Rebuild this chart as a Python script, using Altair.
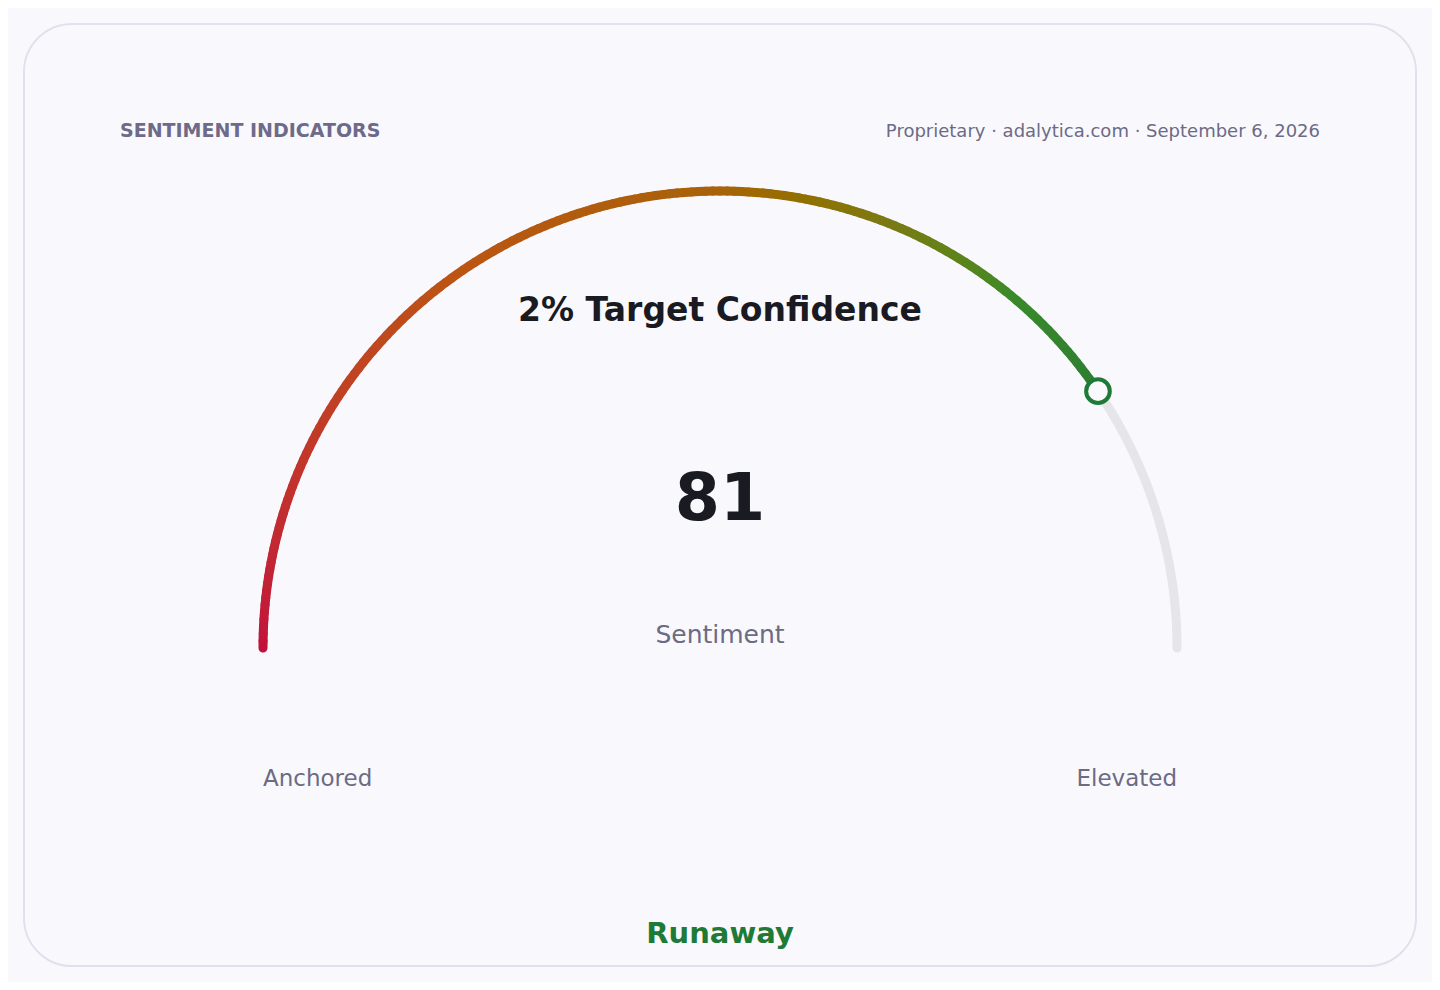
import altair as alt
import pandas as pd

# ---- data ----
VALUE = [81]
SCALE_MIN = 0
SCALE_MAX = 100
TITLE = ["SENTIMENT INDICATORS"]
SOURCE = ["Proprietary · adalytica.com · September 6, 2026"]
GAUGE_TITLE = ["2% Target Confidence"]
METRIC = ["Sentiment"]
END_LABELS = ["Anchored", "Elevated"]
END_VALUES = [0, 100]
STATUS = ["Runaway"]

# ---- styling ----
FONT = "DejaVu Sans"
BG = "#f9f9fd"
CARD_STROKE = "#e1e1ee"
TRACK = "#e5e5ea"
GREEN = "#1f7a36"
MUTED = "#6b6b85"
TITLE_COL = "#6e6a8a"
DARK = "#1a1a22"
GRAD_STOPS = [0, 30, 50, 62, 72, 81]
GRAD_COLS = ["#c2123c", "#bc5414", "#a8620a", "#7a7a15", "#3a8a2a", "#2e7d32"]

W, H = 1392, 942
CX, CY, R = 696, 624, 457
xs = alt.Scale(domain=[-CX / R, (W - CX) / R], nice=False, zero=False)
ys = alt.Scale(domain=[-(H - CY) / R, CY / R], nice=False, zero=False)
X = lambda f: alt.X(f"{f}:Q", scale=xs, axis=None)
Y = lambda f: alt.Y(f"{f}:Q", scale=ys, axis=None)
ang = lambda f: f"PI * (1 - ({f} - {SCALE_MIN}) / ({SCALE_MAX} - {SCALE_MIN}))"
STEP = 0.5
val = VALUE[0]

track = (
    alt.Chart(alt.sequence(SCALE_MIN, SCALE_MAX + 0.001, STEP, as_="v"))
    .transform_calculate(a=ang("datum.v"))
    .transform_calculate(x="cos(datum.a)", y="sin(datum.a)")
    .mark_line(color=TRACK, strokeWidth=9, strokeCap="round")
    .encode(x=X("x"), y=Y("y"), order="v:Q")
)

fill = (
    alt.Chart(alt.sequence(SCALE_MIN, val, STEP, as_="v"))
    .transform_calculate(v2=f"min(datum.v + {STEP}, {val})")
    .transform_calculate(a=ang("datum.v"), a2=ang("datum.v2"))
    .transform_calculate(
        x="cos(datum.a)", y="sin(datum.a)", x2="cos(datum.a2)", y2="sin(datum.a2)"
    )
    .mark_rule(strokeWidth=9, strokeCap="round")
    .encode(
        x=X("x"), y=Y("y"), x2="x2:Q", y2="y2:Q",
        color=alt.Color("v:Q", scale=alt.Scale(domain=GRAD_STOPS, range=GRAD_COLS), legend=None),
    )
)

marker = (
    alt.Chart(pd.DataFrame({"v": VALUE}))
    .transform_calculate(a=ang("datum.v"))
    .transform_calculate(x="cos(datum.a)", y="sin(datum.a)")
    .mark_point(shape="circle", filled=True, fill=BG, stroke=GREEN, strokeWidth=4, size=560, opacity=1)
    .encode(x=X("x"), y=Y("y"))
)


def txt(values, x, y, size, color, weight="normal", align="center"):
    return (
        alt.Chart(pd.DataFrame({"t": values}))
        .mark_text(font=FONT, fontSize=size, fontWeight=weight, color=color,
                   align=align, baseline="alphabetic")
        .encode(text="t:N", x=alt.value(x), y=alt.value(y))
    )


ends = pd.DataFrame({"v": END_VALUES, "t": END_LABELS})


def end_label(i, align):
    return (
        alt.Chart(ends.iloc[[i]])
        .transform_calculate(a=ang("datum.v"))
        .transform_calculate(x="cos(datum.a)")
        .mark_text(font=FONT, fontSize=23, color=MUTED, align=align, baseline="alphabetic")
        .encode(text="t:N", x=X("x"), y=alt.value(786 - 24))
    )


chart = (
    alt.layer(
        track,
        fill,
        marker,
        txt(TITLE, 96, 137 - 24, 19, TITLE_COL, "bold", "left"),
        txt(SOURCE, 1296, 137 - 24, 18, MUTED, "normal", "right"),
        txt(GAUGE_TITLE, CX, 321 - 24, 33, DARK, "bold"),
        txt([str(val)], CX, 520 - 24, 65, DARK, "bold"),
        txt(METRIC, CX, 643 - 24, 25, MUTED),
        end_label(0, "left"),
        end_label(1, "right"),
        txt(STATUS, CX, 943 - 24, 29, GREEN, "bold"),
    )
    .properties(
        width=W, height=H, padding=16,
        autosize=alt.AutoSizeParams(type="none"),
        background=BG,
    )
    .configure_view(fill=BG, stroke=CARD_STROKE, strokeWidth=2, cornerRadius=48)
)

chart.save("out.html", embed_options={"renderer": "svg", "actions": False})
